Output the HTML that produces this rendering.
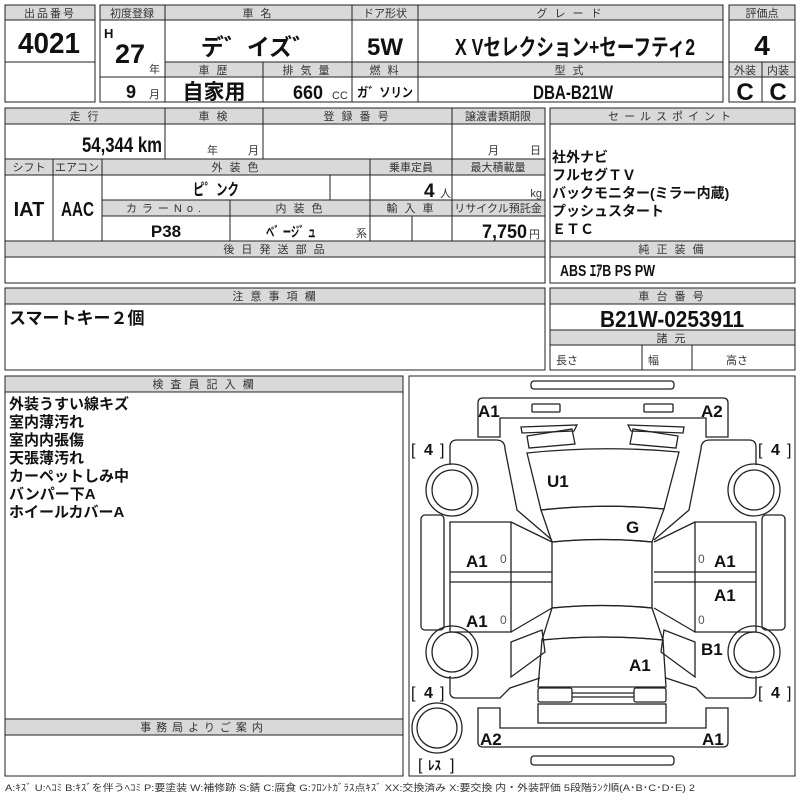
<!DOCTYPE html>
<html><head><meta charset="utf-8"><style>
html,body{margin:0;padding:0;background:#fff;width:800px;height:800px;overflow:hidden}
svg{display:block}
.h{fill:#d9d9d9;stroke:#222;stroke-width:1}
.c{fill:#fff;stroke:#222;stroke-width:1}
.ht{font-family:"Liberation Sans","Noto Sans CJK JP",sans-serif;font-size:11px;fill:#333;text-anchor:middle;letter-spacing:2px}
.v{font-family:"Liberation Sans Narrow","Liberation Sans","Noto Sans CJK JP",sans-serif;font-weight:bold;fill:#111}
.j{font-family:"Liberation Sans","Noto Sans CJK JP",sans-serif;font-weight:bold;fill:#111}
.s{font-family:"Liberation Sans","Noto Sans CJK JP",sans-serif;font-size:11px;fill:#333}
.m{text-anchor:middle}
.d{fill:none;stroke:#222;stroke-width:1.3}
.dl{font-family:"Liberation Sans",sans-serif;font-weight:bold;font-size:17px;fill:#111}
</style></head><body>
<svg width="800" height="800" viewBox="0 0 800 800" xmlns="http://www.w3.org/2000/svg">
<rect class="h" x="5" y="5" width="90" height="15"/><text class="ht" x="50" y="17">出品番号</text>
<rect class="c" x="5" y="20" width="90" height="42"/><text class="v" x="18" y="53" font-size="29" textLength="62" lengthAdjust="spacingAndGlyphs">4021</text>
<rect class="c" x="5" y="62" width="90" height="40"/>

<rect class="h" x="100" y="5" width="65" height="15"/><text class="ht" x="132" y="17" style="letter-spacing:0">初度登録</text>
<rect class="h" x="165" y="5" width="187" height="15"/><text class="ht" x="258" y="17">車 名</text>
<rect class="h" x="352" y="5" width="66" height="15"/><text class="ht" x="385" y="17" style="letter-spacing:0">ドア形状</text>
<rect class="h" x="418" y="5" width="305" height="15"/><text class="ht" x="570" y="17">グ レ ー ド</text>
<rect class="c" x="100" y="20" width="65" height="57"/>
<text class="v" x="104" y="38" font-size="13">H</text><text class="v" x="115" y="63" font-size="27" textLength="30" lengthAdjust="spacingAndGlyphs">27</text><text class="s" x="149" y="73">年</text>
<rect class="c" x="165" y="20" width="187" height="42"/><text class="j m" x="258" y="55" font-size="23">デ゛イズ゛</text>
<rect class="c" x="352" y="20" width="66" height="42"/><text class="v m" x="385" y="55" font-size="24">5W</text>
<rect class="c" x="418" y="20" width="305" height="42"/><text class="j" x="455" y="55" font-size="23" textLength="240" lengthAdjust="spacingAndGlyphs">X Vセレクション+セーフティ2</text>
<rect class="h" x="165" y="62" width="98" height="15"/><text class="ht" x="214" y="74">車 歴</text>
<rect class="h" x="263" y="62" width="89" height="15"/><text class="ht" x="307" y="74">排 気 量</text>
<rect class="h" x="352" y="62" width="66" height="15"/><text class="ht" x="385" y="74">燃 料</text>
<rect class="h" x="418" y="62" width="305" height="15"/><text class="ht" x="570" y="74">型 式</text>
<rect class="c" x="100" y="77" width="65" height="25"/><text class="v" x="126" y="98" font-size="18">9</text><text class="s" x="149" y="98">月</text>
<rect class="c" x="165" y="77" width="98" height="25"/><text class="j m" x="214" y="99" font-size="21">自家用</text>
<rect class="c" x="263" y="77" width="89" height="25"/><text class="v" x="293" y="99" font-size="19" textLength="30" lengthAdjust="spacingAndGlyphs">660</text><text class="s" x="332" y="99" font-size="10">CC</text>
<rect class="c" x="352" y="77" width="66" height="25"/><text class="j m" x="385" y="97" font-size="13" textLength="56" lengthAdjust="spacingAndGlyphs">ガ゛ソリン</text>
<rect class="c" x="418" y="77" width="305" height="25"/><text class="v" x="533" y="99" font-size="19" textLength="80" lengthAdjust="spacingAndGlyphs">DBA-B21W</text>

<rect class="h" x="729" y="5" width="66" height="15"/><text class="ht" x="762" y="17" style="letter-spacing:0">評価点</text>
<rect class="c" x="729" y="20" width="66" height="42"/><text class="v m" x="762" y="55" font-size="28">4</text>
<rect class="h" x="729" y="62" width="33" height="15"/><text class="ht" x="745" y="74" style="letter-spacing:0">外装</text>
<rect class="h" x="762" y="62" width="33" height="15"/><text class="ht" x="778" y="74" style="letter-spacing:0">内装</text>
<rect class="c" x="729" y="77" width="33" height="25"/><text class="v m" x="745" y="100" font-size="24">C</text>
<rect class="c" x="762" y="77" width="33" height="25"/><text class="v m" x="778" y="100" font-size="24">C</text>

<rect class="h" x="5" y="108" width="160" height="16"/><text class="ht" x="85" y="120">走 行</text>
<rect class="h" x="165" y="108" width="98" height="16"/><text class="ht" x="214" y="120">車 検</text>
<rect class="h" x="263" y="108" width="189" height="16"/><text class="ht" x="357" y="120">登 録 番 号</text>
<rect class="h" x="452" y="108" width="93" height="16"/><text class="ht" x="498" y="120" style="letter-spacing:0">譲渡書類期限</text>
<rect class="c" x="5" y="124" width="160" height="35"/><text class="v" x="82" y="152" font-size="21" textLength="80" lengthAdjust="spacingAndGlyphs">54,344 km</text>
<rect class="c" x="165" y="124" width="98" height="35"/><text class="s" x="207" y="154">年</text><text class="s" x="248" y="154">月</text>
<rect class="c" x="263" y="124" width="189" height="35"/>
<rect class="c" x="452" y="124" width="93" height="35"/><text class="s" x="488" y="154">月</text><text class="s" x="530" y="154">日</text>

<rect class="h" x="5" y="159" width="48" height="16"/><text class="ht" x="29" y="171" style="letter-spacing:0">シフト</text>
<rect class="h" x="53" y="159" width="49" height="16"/><text class="ht" x="77" y="171" style="letter-spacing:0">エアコン</text>
<rect class="h" x="102" y="159" width="268" height="16"/><text class="ht" x="236" y="171">外 装 色</text>
<rect class="h" x="370" y="159" width="82" height="16"/><text class="ht" x="411" y="171" style="letter-spacing:0">乗車定員</text>
<rect class="h" x="452" y="159" width="93" height="16"/><text class="ht" x="498" y="171" style="letter-spacing:0">最大積載量</text>
<rect class="c" x="5" y="175" width="48" height="66"/><text class="v m" x="29" y="216" font-size="20">IAT</text>
<rect class="c" x="53" y="175" width="49" height="66"/><text class="v" x="61" y="216" font-size="20" textLength="33" lengthAdjust="spacingAndGlyphs">AAC</text>
<rect class="c" x="102" y="175" width="228" height="25"/><text class="j m" x="216" y="195" font-size="16" textLength="46" lengthAdjust="spacingAndGlyphs">ピ゜ンク</text>
<rect class="c" x="330" y="175" width="40" height="25"/>
<rect class="c" x="370" y="175" width="82" height="25"/><text class="v" x="424" y="197" font-size="19">4</text><text class="s" x="440" y="197">人</text>
<rect class="c" x="452" y="175" width="93" height="25"/><text class="s" x="542" y="197" text-anchor="end">kg</text>
<rect class="h" x="102" y="200" width="128" height="16"/><text class="ht" x="166" y="212" style="letter-spacing:5px">カラーNo.</text>
<rect class="h" x="230" y="200" width="140" height="16"/><text class="ht" x="300" y="212">内 装 色</text>
<rect class="h" x="370" y="200" width="82" height="16"/><text class="ht" x="411" y="212">輸 入 車</text>
<rect class="h" x="452" y="200" width="93" height="16"/><text class="ht" x="498" y="212" style="letter-spacing:0">リサイクル預託金</text>
<rect class="c" x="102" y="216" width="128" height="25"/><text class="v m" x="166" y="237" font-size="17">P38</text>
<rect class="c" x="230" y="216" width="140" height="25"/><text class="j" x="266" y="237" font-size="14" textLength="50" lengthAdjust="spacingAndGlyphs">ベ゛ージ゛ュ</text><text class="s" x="356" y="237">系</text>
<rect class="c" x="370" y="216" width="42" height="25"/>
<rect class="c" x="412" y="216" width="40" height="25"/>
<rect class="c" x="452" y="216" width="93" height="25"/><text class="v" x="482" y="238" font-size="19" textLength="45" lengthAdjust="spacingAndGlyphs">7,750</text><text class="s" x="529" y="238">円</text>
<rect class="h" x="5" y="241" width="540" height="16"/><text class="ht" x="275" y="253">後 日 発 送 部 品</text>
<rect class="c" x="5" y="257" width="540" height="26"/>

<rect class="h" x="550" y="108" width="245" height="16"/><text class="ht" x="672" y="120" style="letter-spacing:5px">セールスポイント</text>
<rect class="c" x="550" y="124" width="245" height="117"/>
<g class="j" font-size="14">
<text x="552" y="162">社外ナビ</text>
<text x="552" y="180">フルセグＴＶ</text>
<text x="552" y="198">バックモニター(ミラー内蔵)</text>
<text x="552" y="216">プッシュスタート</text>
<text x="552" y="234">ＥＴＣ</text>
</g>
<rect class="h" x="550" y="241" width="245" height="16"/><text class="ht" x="672" y="253">純 正 装 備</text>
<rect class="c" x="550" y="257" width="245" height="26"/><text class="v" x="560" y="276" font-size="16" textLength="95" lengthAdjust="spacingAndGlyphs">ABS ｴｱB PS PW</text>

<rect class="h" x="5" y="288" width="540" height="16"/><text class="ht" x="275" y="300">注 意 事 項 欄</text>
<rect class="c" x="5" y="304" width="540" height="66"/><text class="j" x="9" y="324" font-size="17">スマートキー２個</text>
<rect class="h" x="550" y="288" width="245" height="16"/><text class="ht" x="672" y="300">車 台 番 号</text>
<rect class="c" x="550" y="304" width="245" height="26"/><text class="v" x="600" y="327" font-size="23" textLength="144" lengthAdjust="spacingAndGlyphs">B21W-0253911</text>
<rect class="h" x="550" y="330" width="245" height="15"/><text class="ht" x="672" y="342">諸 元</text>
<rect class="c" x="550" y="345" width="92" height="25"/><text class="s" x="556" y="364">長さ</text>
<rect class="c" x="642" y="345" width="50" height="25"/><text class="s" x="648" y="364">幅</text>
<rect class="c" x="692" y="345" width="103" height="25"/><text class="s" x="726" y="364">高さ</text>

<rect class="c" x="5" y="376" width="398" height="400"/>
<rect class="h" x="5" y="376" width="398" height="16"/><text class="ht" x="204" y="388">検 査 員 記 入 欄</text>
<g class="j" font-size="15">
<text x="9" y="409">外装うすい線キズ</text>
<text x="9" y="427">室内薄汚れ</text>
<text x="9" y="445">室内内張傷</text>
<text x="9" y="463">天張薄汚れ</text>
<text x="9" y="481">カーペットしみ中</text>
<text x="9" y="499">バンパー下A</text>
<text x="9" y="517">ホイールカバーA</text>
</g>
<rect class="h" x="5" y="719" width="398" height="16"/><text class="ht" x="204" y="731" style="letter-spacing:5px">事務局よりご案内</text>

<rect class="c" x="409" y="376" width="386" height="400"/>
<g class="d">
<rect x="531" y="381" width="143" height="8" rx="3"/>
<path d="M483,398 H723 Q728,398 728,403 V437 H706 V418 H500 V437 H478 V403 Q478,398 483,398 Z"/>
<rect x="532" y="404" width="28" height="8" rx="1"/>
<rect x="644" y="404" width="29" height="8" rx="1"/>
<path d="M521,427 L577,425 L574,431 L522,433 Z"/>
<path d="M527,436 L572,429 L575,444 L529,448 Z"/>
<path d="M628,425 L684,427 L683,433 L631,431 Z"/>
<path d="M633,429 L678,436 L676,448 L630,444 Z"/>
<path d="M527,453 Q603,445 679,452 L664,509 Q603,503 541,510 Z"/>
<path d="M541,510 Q603,503 664,509 L652,542 Q603,537 552,542 Z"/>
<path d="M552,542 Q603,537 652,542 L652,608 Q603,603 552,608 Z"/>
<path d="M552,608 Q603,603 652,608 L663,640 Q603,634 542,640 Z"/>
<path d="M542,640 Q603,634 663,640 L666,687 L538,687 Z"/>
<rect x="538" y="688" width="34" height="14" rx="2"/>
<rect x="634" y="688" width="32" height="14" rx="2"/>
<path d="M572,693 H634 M572,697 H634"/>
<rect x="538" y="704" width="128" height="19"/>
<path d="M483,747 H723 Q728,747 728,742 V708 H706 V728 H500 V708 H478 V742 Q478,747 483,747 Z"/>
<rect x="531" y="756" width="143" height="9" rx="3"/>
</g>
<g id="L" class="d">
<path d="M450,465 V447 Q450,440 457,440 H496 Q505,440 505,449 L517,510 L552,540"/>
<circle cx="452" cy="490" r="26"/><circle cx="452" cy="490" r="20"/>
<rect x="421" y="515" width="23" height="115" rx="4"/>
<path d="M450,522 H511 V632 H450 Z M450,572 H552 M450,582 H552 M511,522 L552,542 M511,632 L552,608"/>
<circle cx="452" cy="652" r="26"/><circle cx="452" cy="652" r="20"/>
<path d="M511,642 L542,630 L545,652 L511,677 Z"/>
<path d="M450,676 V692 Q450,698 456,698 H500 L510,688 L540,678"/>
</g>
<use href="#L" transform="translate(1206,0) scale(-1,1)"/>
<g class="d"><circle cx="437" cy="728" r="25"/><circle cx="437" cy="728" r="20"/></g>
<text class="dl" x="478" y="417">A1</text><text class="dl" x="701" y="417">A2</text>
<text class="dl" x="547" y="487">U1</text><text class="dl" x="626" y="533">G</text>
<text class="dl" x="466" y="567">A1</text><text class="dl" x="714" y="567">A1</text>
<text class="dl" x="466" y="627">A1</text><text class="dl" x="714" y="601">A1</text>
<text class="dl" x="701" y="655">B1</text><text class="dl" x="629" y="671">A1</text>
<text class="dl" x="480" y="745">A2</text><text class="dl" x="702" y="745">A1</text>
<g font-family="Liberation Sans" font-size="12" fill="#555"><text x="500" y="563">0</text><text x="698" y="563">0</text><text x="500" y="624">0</text><text x="698" y="624">0</text></g>
<g font-family="Liberation Sans" font-size="16" fill="#111"><text x="411" y="455">[</text><text x="424" y="455" font-weight="bold">4</text><text x="440" y="455">]</text>
<text x="758" y="455">[</text><text x="771" y="455" font-weight="bold">4</text><text x="787" y="455">]</text>
<text x="411" y="698">[</text><text x="424" y="698" font-weight="bold">4</text><text x="440" y="698">]</text>
<text x="758" y="698">[</text><text x="771" y="698" font-weight="bold">4</text><text x="787" y="698">]</text>
<text x="418" y="770">[</text><text x="428" y="770" font-size="13" font-family="Liberation Sans,Noto Sans CJK JP,sans-serif" font-weight="bold">ﾚｽ</text><text x="450" y="770">]</text></g>
<text x="5" y="791" font-family="Liberation Sans Narrow,Liberation Sans,Noto Sans CJK JP,sans-serif" font-size="9.5" fill="#333" textLength="690" lengthAdjust="spacingAndGlyphs">A:ｷｽﾞ U:ﾍｺﾐ B:ｷｽﾞを伴うﾍｺﾐ P:要塗装 W:補修跡 S:錆 C:腐食 G:ﾌﾛﾝﾄｶﾞﾗｽ点ｷｽﾞ XX:交換済み X:要交換  内・外装評価  5段階ﾗﾝｸ順(A･B･C･D･E) 2</text>
</svg>
</body></html>
